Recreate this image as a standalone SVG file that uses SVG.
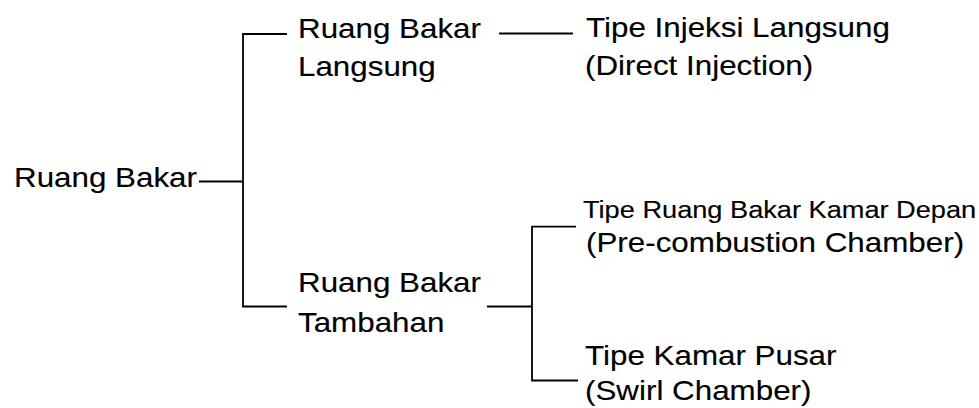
<svg xmlns="http://www.w3.org/2000/svg" width="979" height="408" viewBox="0 0 979 408">
<style>
text { font-family: "Liberation Sans", Arial, sans-serif; fill: #000; stroke: #000; stroke-width: 0.15; }
.m { font-size: 28px; }
.s { font-size: 24px; }
.c { stroke: #000; stroke-width: 1.8; fill: none; }
</style>
<rect width="979" height="408" fill="#fff"/>
<g id="connectors">
<path class="c" d="M199,181.5 H243"/>
<path class="c" d="M287,34 H243 V306.5 H287"/>
<path class="c" d="M499,33.5 H573"/>
<path class="c" d="M487,306.5 H532"/>
<path class="c" d="M576,226.7 H532 V380.5 H578"/>
</g>
<g id="root">
<text class="m" transform="translate(14,186.5) scale(1.12,1)">Ruang Bakar</text>
</g>
<g id="langsung">
<text class="m" transform="translate(298,37.5) scale(1.12,1)">Ruang Bakar</text>
<text class="m" transform="translate(298,75.5) scale(1.12,1)">Langsung</text>
</g>
<g id="direct-injection">
<text class="m" transform="translate(586,36.7) scale(1.12,1)">Tipe Injeksi Langsung</text>
<text class="m" transform="translate(585,75) scale(1.12,1)">(Direct Injection)</text>
</g>
<g id="tambahan">
<text class="m" transform="translate(298,291.7) scale(1.12,1)">Ruang Bakar</text>
<text class="m" transform="translate(298,331.7) scale(1.12,1)">Tambahan</text>
</g>
<g id="pre-combustion">
<text class="s" transform="translate(583,218.3) scale(1.133,1)">Tipe Ruang Bakar Kamar Depan</text>
<text class="m" transform="translate(586,251.7) scale(1.12,1)">(Pre-combustion Chamber)</text>
</g>
<g id="swirl">
<text class="m" transform="translate(585,365) scale(1.12,1)">Tipe Kamar Pusar</text>
<text class="m" transform="translate(585,400) scale(1.12,1)">(Swirl Chamber)</text>
</g>
</svg>
